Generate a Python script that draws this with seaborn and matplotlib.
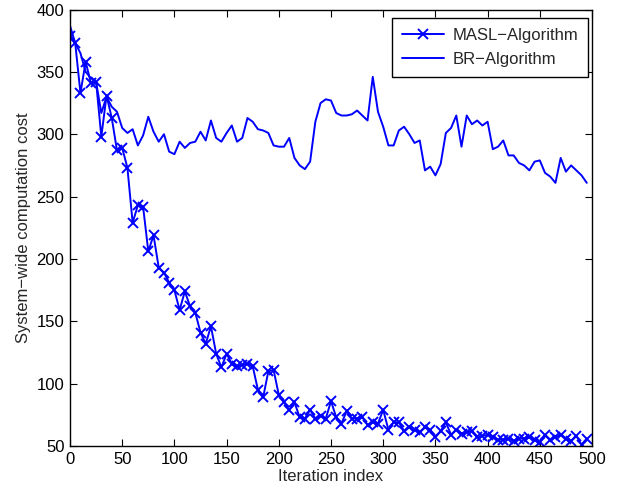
import matplotlib
matplotlib.use("Agg")
import matplotlib.pyplot as plt
import numpy as np
import pandas as pd
import seaborn as sns

# ---- data ----
iterations = list(range(0, 500, 5))

masl_cost = [379, 373, 333, 358, 341, 342, 298, 331, 313, 287,
             289, 273, 229, 243, 242, 206, 219, 193, 189, 181,
             175, 159, 174, 162, 157, 141, 132, 146, 124, 113,
             124, 116, 114, 115, 116, 114, 95, 89, 110, 111,
             91, 85, 79, 85, 73, 72, 79, 72, 74, 72,
             86, 73, 68, 78, 72, 72, 73, 67, 69, 68,
             79, 63, 69, 69, 62, 65, 63, 61, 65, 63,
             57, 62, 69, 59, 63, 60, 61, 62, 57, 58,
             59, 57, 55, 55, 56, 54, 56, 56, 57, 55,
             53, 59, 55, 57, 59, 56, 54, 58, 51, 56]

br_cost = [387, 373, 365, 350, 345, 342, 317, 330, 322, 318,
           305, 301, 304, 291, 299, 314, 302, 294, 300, 286,
           284, 294, 289, 293, 294, 302, 295, 311, 297, 294,
           301, 307, 294, 297, 313, 310, 304, 303, 301, 291,
           290, 290, 297, 281, 275, 272, 278, 310, 325, 328,
           327, 317, 315, 315, 316, 319, 315, 311, 346, 318,
           306, 291, 291, 303, 306, 300, 293, 295, 271, 274,
           267, 276, 301, 305, 315, 290, 315, 308, 311, 307,
           310, 288, 290, 295, 283, 283, 277, 275, 271, 278,
           279, 269, 266, 261, 281, 270, 275, 271, 267, 261]

series_names = ["MASL\u2212Algorithm", "BR\u2212Algorithm"]
x_ticks = list(range(0, 501, 50))
y_ticks = list(range(50, 401, 50))
x_label = "Iteration index"
y_label = "System\u2212wide computation cost"

# ---- style ----
sns.set_style("ticks")
plt.rcParams['font.family'] = ['Liberation Sans', 'DejaVu Sans']
plt.rcParams['font.size'] = 12

fig = plt.figure(figsize=(6.2, 4.95), dpi=100)
W, H = 620, 495
x0, x1, ytop, ybot = 70, 592, 9.5, 446
ax = fig.add_axes([x0 / W, 1 - ybot / H, (x1 - x0) / W, (ybot - ytop) / H])

blue = (0, 0, 1)
sns.lineplot(x=iterations, y=masl_cost, ax=ax, color=blue, marker='x',
             markersize=6.5, markeredgewidth=1.4, markeredgecolor=blue,
             markerfacecolor=blue, linewidth=1.4, label=series_names[0])
sns.lineplot(x=iterations, y=br_cost, ax=ax, color=blue,
             linewidth=1.4, label=series_names[1])

ax.set_xlim(0, 500)
ax.set_ylim(50, 400)
ax.set_xticks(x_ticks)
ax.set_yticks(y_ticks)
ax.set_xlabel(x_label, fontsize=12, labelpad=2)
ax.set_ylabel(y_label, fontsize=12, labelpad=4)
ax.tick_params(direction='in', top=True, right=True, length=5, width=0.8,
               labelsize=12, colors='black', pad=4)
for s in ax.spines.values():
    s.set_visible(True)
    s.set_color('black')
    s.set_linewidth(1.0)

bx = (588 - x0) / (x1 - x0)
by = 1 - (18 - ytop) / (ybot - ytop)
leg = ax.legend(loc='upper right', bbox_to_anchor=(bx, by), borderaxespad=0,
                fancybox=False, framealpha=1, edgecolor='black', fontsize=12,
                handlelength=2.5, handletextpad=0.5, borderpad=0.6,
                labelspacing=0.55)
leg.get_frame().set_linewidth(1.0)

fig.savefig("out.png", dpi=100)
